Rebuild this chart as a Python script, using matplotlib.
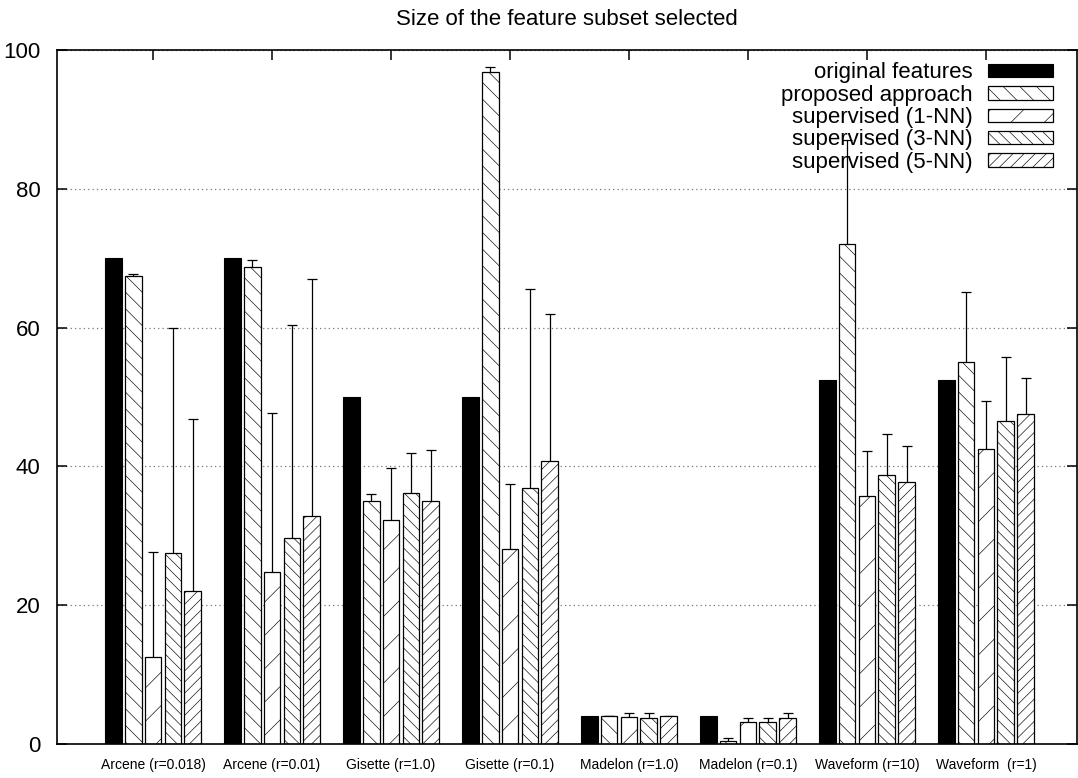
import numpy as np
import matplotlib
matplotlib.use("Agg")
import matplotlib.pyplot as plt

plt.rcParams['font.family'] = ['Liberation Sans', 'DejaVu Sans']
plt.rcParams['hatch.linewidth'] = 0.45

datasets = ["Arcene (r=0.018)", "Arcene (r=0.01)", "Gisette (r=1.0)", "Gisette (r=0.1)",
            "Madelon (r=1.0)", "Madelon (r=0.1)", "Waveform (r=10)", "Waveform  (r=1)"]

# percentage of features kept, with standard deviation
original = [70.0, 70.0, 50.0, 50.0, 4.1, 4.1, 52.5, 52.5]
proposed = [67.4, 68.7, 35.0, 96.9, 4.0, 0.5, 72.0, 55.1]
proposed_err = [0.3, 1.0, 1.0, 0.7, 0.0, 0.4, 15.0, 10.0]
nn1 = [12.6, 24.8, 32.3, 28.1, 3.9, 3.2, 35.7, 42.5]
nn1_err = [15.0, 22.9, 7.5, 9.3, 0.5, 0.6, 6.5, 6.9]
nn3 = [27.5, 29.7, 36.1, 36.9, 3.8, 3.1, 38.8, 46.5]
nn3_err = [32.5, 30.7, 5.9, 28.7, 0.6, 0.7, 5.9, 9.2]
nn5 = [22.0, 32.8, 35.0, 40.8, 4.0, 3.7, 37.7, 47.5]
nn5_err = [24.8, 34.2, 7.3, 21.2, 0.1, 0.8, 5.3, 5.3]

series = [
    ("original features", original, None, ""),
    ("proposed approach", proposed, proposed_err, "\\\\"),
    ("supervised (1-NN)", nn1, nn1_err, "/"),
    ("supervised (3-NN)", nn3, nn3_err, "\\\\\\"),
    ("supervised (5-NN)", nn5, nn5_err, "///"),
]

fig = plt.figure(figsize=(10.78, 7.78), dpi=100)
ax = fig.add_axes([57 / 1078, 34 / 778, 1020 / 1078, 694 / 778])

x = np.arange(len(datasets))
slot = 1 / 6
width = 0.14

handles = []
for k, (label, vals, err, hatch) in enumerate(series):
    pos = x + (k - 2) * slot
    if err is None:
        b = ax.bar(pos, vals, width, color="black", edgecolor="black",
                   linewidth=0.8, zorder=2, label=label)
    else:
        ax.errorbar(pos, vals, yerr=err, fmt="none", ecolor="black",
                    elinewidth=0.9, capsize=3.5, capthick=0.9, zorder=1)
        b = ax.bar(pos, vals, width, color="white", edgecolor="black",
                   linewidth=0.9, hatch=hatch, zorder=2, label=label)
    handles.append(b)

ax.set_xlim(-0.807, 7.765)
ax.set_ylim(0, 100)
ax.set_yticks(np.arange(0, 101, 20))
ax.set_xticks(x)
ax.set_xticklabels(datasets, fontsize=10)
ax.tick_params(axis="y", labelsize=16, direction="in", length=7, width=1.1,
               right=True, pad=12)
ax.tick_params(axis="x", direction="in", length=7, width=1.1, top=True, pad=10)
for s in ax.spines.values():
    s.set_linewidth(1.2)

ax.yaxis.grid(True, linestyle=(0, (1, 2.5)), color="#777777", linewidth=0.9)
ax.set_axisbelow(True)

ax.set_title("Size of the feature subset selected", fontsize=16, pad=18)

ax.legend(handles=handles, loc="upper right", bbox_to_anchor=(0.976, 0.982),
          frameon=False, markerfirst=False, fontsize=16, borderpad=0,
          borderaxespad=0, labelspacing=0.06, handlelength=2.9,
          handleheight=0.55, handletextpad=0.7)

fig.savefig("out.png", dpi=100)
